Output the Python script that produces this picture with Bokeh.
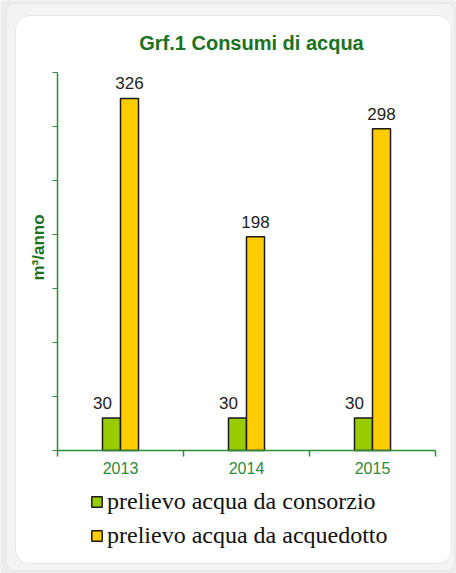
import numpy as np
from bokeh.plotting import figure
from bokeh.models import (Range1d, FixedTicker, LinearAxis, Legend, LegendItem,
                          Label, BoxAnnotation, ColumnDataSource)
from bokeh.core.properties import value
from bokeh.embed import file_html
from bokeh.resources import INLINE

# ---- data ----
years = ["2013", "2014", "2015"]
consorzio = [30, 30, 30]
acquedotto = [326, 198, 298]
y_ticks = [0, 50, 100, 150, 200, 250, 300, 350]
series_names = ["prelievo acqua da consorzio", "prelievo acqua da acquedotto"]
title_text = "Grf.1 Consumi di acqua"
y_label = "m³/anno"

# ---- style ----
AXIS_GREEN = "#2e8b3a"
TITLE_GREEN = "#1b721f"
BAR_GREEN = "#99cc00"
BAR_YELLOW = "#ffcc00"
SANS = "Liberation Sans"
SERIF = "Liberation Serif"

W, H = 456, 573
# plot-area placement in pixels (frame covers whole canvas)
AX_L, AX_R, AX_T, AX_B = 57, 435, 72, 450
y_max = y_ticks[-1]
n = len(years)
px_x = (AX_R - AX_L) / n
px_y = (AX_B - AX_T) / y_max

idx = np.arange(n)
centers = idx + 0.5
bw = 0.143
src = ColumnDataSource(dict(
    year=years,
    x_c=centers - bw / 2,
    x_a=centers + bw / 2,
    x_lc=centers - bw,
    cons=consorzio,
    acq=acquedotto,
    cons_t=[str(v) for v in consorzio],
    acq_t=[str(v) for v in acquedotto],
))

p = figure(width=W, height=H,
           x_range=Range1d(-AX_L / px_x, n + (W - AX_R) / px_x),
           y_range=Range1d(-(H - AX_B) / px_y, y_max + AX_T / px_y),
           output_backend="svg", toolbar_location=None,
           x_axis_type=None, y_axis_type=None, title=None,
           min_border=0, min_border_left=0, min_border_right=0,
           min_border_top=0, min_border_bottom=0)
p.xgrid.visible = False
p.ygrid.visible = False
p.outline_line_color = None
p.border_fill_color = "#ececec"
p.background_fill_color = "#ececec"

# rounded chart frame
p.add_layout(BoxAnnotation(left=6, right=W - 2, top=H - 3, bottom=3,
                           left_units="screen", right_units="screen",
                           top_units="screen", bottom_units="screen",
                           fill_color="#f4f4f4", fill_alpha=1,
                           line_color="#d0d0d0", line_width=1,
                           border_radius=8, level="underlay"))
p.add_layout(BoxAnnotation(left=15, right=W - 5, top=H - 15, bottom=10,
                           left_units="screen", right_units="screen",
                           top_units="screen", bottom_units="screen",
                           fill_color="white", fill_alpha=1,
                           line_color="#bdbdbd", line_width=1,
                           border_radius=14, level="underlay"))

# axes, drawn inside the frame at the data origin
xaxis = LinearAxis(ticker=FixedTicker(ticks=list(centers),
                                      minor_ticks=list(range(n + 1))),
                   major_label_overrides={float(c): y for c, y in zip(centers, years)},
                   fixed_location=0, bounds=(0, n))
xaxis.axis_line_color = AXIS_GREEN
xaxis.axis_line_width = 1.5
xaxis.major_tick_line_color = None
xaxis.major_tick_out = 6
xaxis.major_tick_in = 0
xaxis.minor_tick_line_color = AXIS_GREEN
xaxis.minor_tick_line_width = 1.5
xaxis.minor_tick_out = 6
xaxis.minor_tick_in = 0
xaxis.major_label_standoff = 5
xaxis.major_label_text_font = SANS
xaxis.major_label_text_font_size = "16px"
xaxis.major_label_text_color = AXIS_GREEN
p.add_layout(xaxis, "below")

yaxis = LinearAxis(ticker=FixedTicker(ticks=y_ticks, minor_ticks=[]),
                   major_label_overrides={t: "" for t in y_ticks},
                   fixed_location=0, bounds=(0, y_max))
yaxis.axis_line_color = AXIS_GREEN
yaxis.axis_line_width = 1.5
yaxis.major_tick_line_color = AXIS_GREEN
yaxis.major_tick_out = 5
yaxis.major_tick_in = 0
yaxis.minor_tick_line_color = None
yaxis.major_label_standoff = 0
p.add_layout(yaxis, "left")

# bars
r1 = p.vbar(x="x_c", top="cons", bottom=0, width=bw, source=src,
            fill_color=BAR_GREEN, line_color="#1a1a1a", line_width=1.5)
r2 = p.vbar(x="x_a", top="acq", bottom=0, width=bw, source=src,
            fill_color=BAR_YELLOW, line_color="#1a1a1a", line_width=1.5)

# data labels
p.text(x="x_lc", y="cons", text="cons_t", source=src, text_align="center",
       text_baseline="alphabetic", y_offset=-15, text_font=value(SANS),
       text_font_size="17px", text_color="#222222")
p.text(x="x_a", y="acq", text="acq_t", source=src, text_align="center",
       text_baseline="alphabetic", y_offset=-15, text_font=value(SANS),
       text_font_size="17px", text_color="#222222")

# title
p.add_layout(Label(x=251, y=H - 42, x_units="screen", y_units="screen",
                   text=title_text, text_align="center", text_baseline="middle",
                   text_font=SANS, text_font_style="bold", text_font_size="20px",
                   text_color=TITLE_GREEN))

# y label
p.add_layout(Label(x=38, y=H - 247, x_units="screen", y_units="screen",
                   text=y_label, angle=np.pi / 2, text_align="center",
                   text_baseline="middle", text_font=SANS,
                   text_font_style="bold", text_font_size="17px",
                   text_color=TITLE_GREEN))

# legend (below the axis)
legend = Legend(items=[LegendItem(label=series_names[0], renderers=[r1]),
                       LegendItem(label=series_names[1], renderers=[r2])],
                location=(90, 24), orientation="vertical",
                label_text_font=SERIF, label_text_font_size="24px",
                label_text_color="#111111",
                glyph_width=13, glyph_height=13, label_height=26,
                label_standoff=4, spacing=7, padding=0, margin=0,
                border_line_color=None, background_fill_alpha=0)
p.add_layout(legend)

open("out.html", "w").write(file_html(p, INLINE))
